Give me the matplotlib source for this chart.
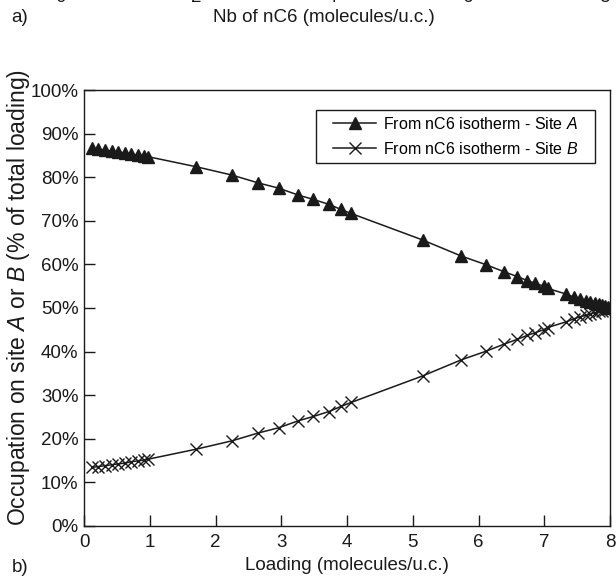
import matplotlib
matplotlib.use("Agg")
import matplotlib.pyplot as plt
from matplotlib.ticker import FuncFormatter
from matplotlib.patches import Rectangle

plt.rcParams['font.family'] = ['Liberation Sans', 'DejaVu Sans']
plt.rcParams['mathtext.fontset'] = 'custom'
plt.rcParams['mathtext.it'] = 'Liberation Sans:italic'
plt.rcParams['mathtext.rm'] = 'Liberation Sans'

# Loading (molecules/u.c.)
loading = [0.12, 0.22, 0.32, 0.42, 0.52, 0.62, 0.72, 0.82, 0.92, 0.98,
           1.71, 2.25, 2.65, 2.96, 3.26, 3.49, 3.72, 3.91, 4.06,
           5.15, 5.74, 6.12, 6.39, 6.59, 6.74, 6.86, 6.99, 7.05,
           7.33, 7.45, 7.55, 7.63, 7.70, 7.77, 7.83, 7.88, 7.93, 7.97, 8.00]
# Occupation of site A (% of total loading)
site_a = [86.6, 86.4, 86.2, 86.0, 85.8, 85.6, 85.3, 85.1, 84.9, 84.7,
          82.4, 80.5, 78.7, 77.5, 75.9, 74.9, 73.8, 72.6, 71.7,
          65.6, 61.9, 59.9, 58.3, 57.2, 56.3, 55.7, 55.0, 54.5,
          53.2, 52.5, 52.0, 51.7, 51.4, 51.1, 50.8, 50.6, 50.4, 50.2, 50.0]
# Occupation of site B (% of total loading)
site_b = [13.4, 13.6, 13.8, 14.0, 14.2, 14.4, 14.7, 14.9, 15.1, 15.3,
          17.6, 19.5, 21.3, 22.5, 24.1, 25.1, 26.2, 27.4, 28.3,
          34.4, 38.1, 40.1, 41.7, 42.8, 43.7, 44.3, 45.0, 45.5,
          46.8, 47.5, 48.0, 48.3, 48.6, 48.9, 49.2, 49.4, 49.6, 49.8, 50.0]

x_ticks = [0, 1, 2, 3, 4, 5, 6, 7, 8]
y_ticks = [0, 10, 20, 30, 40, 50, 60, 70, 80, 90, 100]
top_ticks = ['0', '2', '4', '6', '8']

INK = '#1a1a1a'
W, H = 616, 578
fig = plt.figure(figsize=(W / 100, H / 100), dpi=100)
ax_l, ax_r, ax_t, ax_b = 84, 610, 90.1, 525.8
ax = fig.add_axes([ax_l / W, 1 - ax_b / H, (ax_r - ax_l) / W, (ax_b - ax_t) / H])

ax.plot(loading, site_a, color=INK, lw=1.1, marker='^', ms=9,
        mfc=INK, mec=INK, label='From nC6 isotherm - Site $\\it{A}$')
ax.plot(loading, site_b, color=INK, lw=1.1, marker='x', ms=9,
        mew=1.0, label='From nC6 isotherm - Site $\\it{B}$')

ax.set_xlim(0, 8)
ax.set_ylim(0, 100)
ax.set_xticks(x_ticks)
ax.set_yticks(y_ticks)
ax.yaxis.set_major_formatter(FuncFormatter(lambda v, p: f"{int(v)}%"))
ax.tick_params(direction='in', length=8, width=1, labelsize=13.5, colors=INK)
ax.tick_params(axis='x', pad=6)
ax.tick_params(axis='y', pad=4)
for s in ax.spines.values():
    s.set_linewidth(1.0)
    s.set_color(INK)

ax.set_xlabel('Loading (molecules/u.c.)', fontsize=13.5, labelpad=4, color=INK)
ax.set_ylabel('Occupation on site $\\it{A}$ or $\\it{B}$ (% of total loading)',
              fontsize=16.5, color=INK)
ax.yaxis.set_label_coords((32 - ax_l) / (ax_r - ax_l), (ax_b - 297.5) / (ax_b - ax_t))

# legend: text placed without frame, frame drawn as a rectangle
def ax_x(px):
    return (px - ax_l) / (ax_r - ax_l)

def ax_y(py):
    return (ax_b - py) / (ax_b - ax_t)

leg = ax.legend(loc='upper left', bbox_to_anchor=(ax_x(333), ax_y(116)), fontsize=11.5,
                frameon=False, handlelength=2.7, handletextpad=0.45,
                borderaxespad=0, borderpad=0, labelspacing=0.55)
ax.add_patch(Rectangle((ax_x(316), ax_y(163)), ax_x(595) - ax_x(316), ax_y(110) - ax_y(163),
                       transform=ax.transAxes, fill=False, edgecolor=INK, lw=1.0, zorder=5))

# panel labels and the cut-off remains of panel a)
fig.text(20 / W, 1 - 17 / H, 'a)', fontsize=13.5, ha='center', va='center', color=INK)
fig.text(324 / W, 1 - 17 / H, 'Nb of nC6 (molecules/u.c.)', fontsize=13.5,
         ha='center', va='center', color=INK)
for i, t in enumerate(top_ticks):
    fig.text((60 + i * 136) / W, 1 + 3 / H, t, fontsize=13.5, ha='center',
             va='center', color=INK)
fig.text(20 / W, 1 - 568 / H, 'b)', fontsize=13.5, ha='center', va='center', color=INK)

fig.savefig('out.png', dpi=100)
